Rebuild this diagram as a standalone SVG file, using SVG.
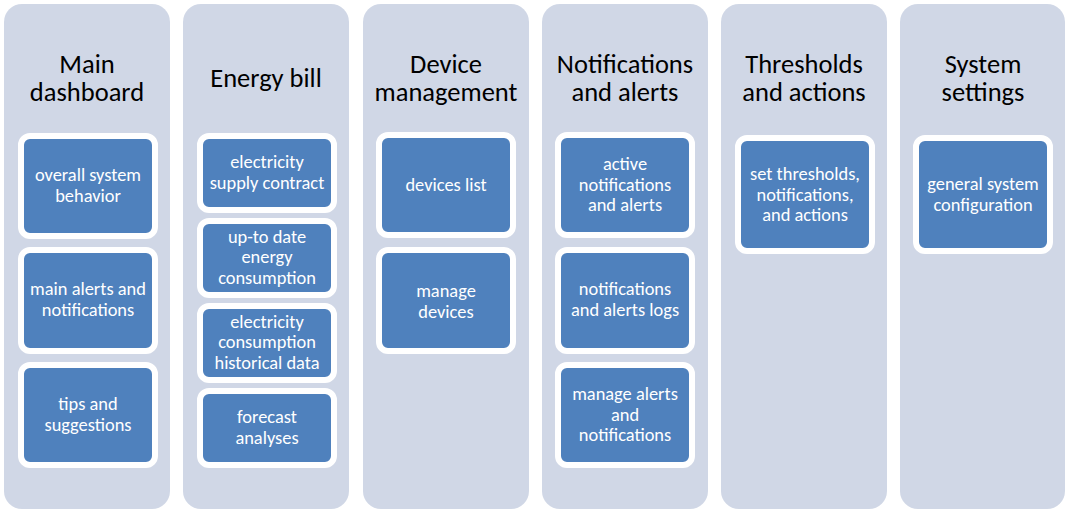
<svg xmlns="http://www.w3.org/2000/svg" width="1066" height="512" viewBox="0 0 1066 512">
  <style>
    .col { fill: #D0D7E6; }
    .box { fill: #4F81BD; stroke: #FFFFFF; stroke-width: 6; }
    .title { font-family: Carlito, Lato, "Liberation Sans", sans-serif; font-size: 26.5px; fill: #000000; text-anchor: middle; }
    .label { font-family: Carlito, Lato, "Liberation Sans", sans-serif; font-size: 18.4px; fill: #FFFFFF; text-anchor: middle; }
  </style>
  <rect width="1066" height="512" fill="#FFFFFF"/>

  <!-- Main dashboard -->
  <g id="main-dashboard">
    <rect class="col" x="4" y="4" width="166" height="505" rx="18"/>
    <text class="title" x="87" y="73">Main<tspan x="87" dy="28">dashboard</tspan></text>
    <g id="overall-system-behavior">
      <rect class="box" x="21" y="136" width="134" height="100" rx="9"/>
      <text class="label" x="88" y="181">overall system<tspan x="88" dy="20.5">behavior</tspan></text>
    </g>
    <g id="main-alerts">
      <rect class="box" x="21" y="250" width="134" height="101" rx="9"/>
      <text class="label" x="88" y="295">main alerts and<tspan x="88" dy="20.5">notifications</tspan></text>
    </g>
    <g id="tips">
      <rect class="box" x="21" y="365" width="134" height="100" rx="9"/>
      <text class="label" x="88" y="410">tips and<tspan x="88" dy="20.5">suggestions</tspan></text>
    </g>
  </g>

  <!-- Energy bill -->
  <g id="energy-bill">
    <rect class="col" x="183" y="4" width="166" height="505" rx="18"/>
    <text class="title" x="266" y="87">Energy bill</text>
    <g id="supply-contract">
      <rect class="box" x="200" y="136" width="134" height="74" rx="9"/>
      <text class="label" x="267" y="168">electricity<tspan x="267" dy="20.5">supply contract</tspan></text>
    </g>
    <g id="energy-consumption">
      <rect class="box" x="200" y="221" width="134" height="74" rx="9"/>
      <text class="label" x="267" y="242.5">up-to date<tspan x="267" dy="20.5">energy</tspan><tspan x="267" dy="20.5">consumption</tspan></text>
    </g>
    <g id="historical-data">
      <rect class="box" x="200" y="306" width="134" height="74" rx="9"/>
      <text class="label" x="267" y="327.5">electricity<tspan x="267" dy="20.5">consumption</tspan><tspan x="267" dy="20.5">historical data</tspan></text>
    </g>
    <g id="forecast">
      <rect class="box" x="200" y="391" width="134" height="74" rx="9"/>
      <text class="label" x="267" y="423">forecast<tspan x="267" dy="20.5">analyses</tspan></text>
    </g>
  </g>

  <!-- Device management -->
  <g id="device-management">
    <rect class="col" x="363" y="4" width="166" height="505" rx="18"/>
    <text class="title" x="446" y="73">Device<tspan x="446" dy="28">management</tspan></text>
    <g id="devices-list">
      <rect class="box" x="379" y="135" width="134" height="100" rx="9"/>
      <text class="label" x="446" y="190.5">devices list</text>
    </g>
    <g id="manage-devices">
      <rect class="box" x="379" y="250" width="134" height="101" rx="9"/>
      <text class="label" x="446" y="297">manage<tspan x="446" dy="20.5">devices</tspan></text>
    </g>
  </g>

  <!-- Notifications and alerts -->
  <g id="notifications-alerts">
    <rect class="col" x="542" y="4" width="166" height="505" rx="18"/>
    <text class="title" x="625" y="73">Notifications<tspan x="625" dy="28">and alerts</tspan></text>
    <g id="active-notifications">
      <rect class="box" x="558" y="135" width="134" height="100" rx="9"/>
      <text class="label" x="625" y="170">active<tspan x="625" dy="20.5">notifications</tspan><tspan x="625" dy="20.5">and alerts</tspan></text>
    </g>
    <g id="alerts-logs">
      <rect class="box" x="558" y="250" width="134" height="101" rx="9"/>
      <text class="label" x="625" y="295">notifications<tspan x="625" dy="20.5">and alerts logs</tspan></text>
    </g>
    <g id="manage-alerts">
      <rect class="box" x="558" y="365" width="134" height="100" rx="9"/>
      <text class="label" x="625" y="400">manage alerts<tspan x="625" dy="20.5">and</tspan><tspan x="625" dy="20.5">notifications</tspan></text>
    </g>
  </g>

  <!-- Thresholds and actions -->
  <g id="thresholds-actions">
    <rect class="col" x="721" y="4" width="166" height="505" rx="18"/>
    <text class="title" x="804" y="73">Thresholds<tspan x="804" dy="28">and actions</tspan></text>
    <g id="set-thresholds">
      <rect class="box" x="738" y="138" width="134" height="113" rx="9"/>
      <text class="label" x="805" y="180">set thresholds,<tspan x="805" dy="20.5">notifications,</tspan><tspan x="805" dy="20.5">and actions</tspan></text>
    </g>
  </g>

  <!-- System settings -->
  <g id="system-settings">
    <rect class="col" x="900" y="4" width="165" height="505" rx="18"/>
    <text class="title" x="983" y="73">System<tspan x="983" dy="28">settings</tspan></text>
    <g id="general-configuration">
      <rect class="box" x="916" y="138" width="134" height="113" rx="9"/>
      <text class="label" x="983" y="190">general system<tspan x="983" dy="20.5">configuration</tspan></text>
    </g>
  </g>
</svg>
